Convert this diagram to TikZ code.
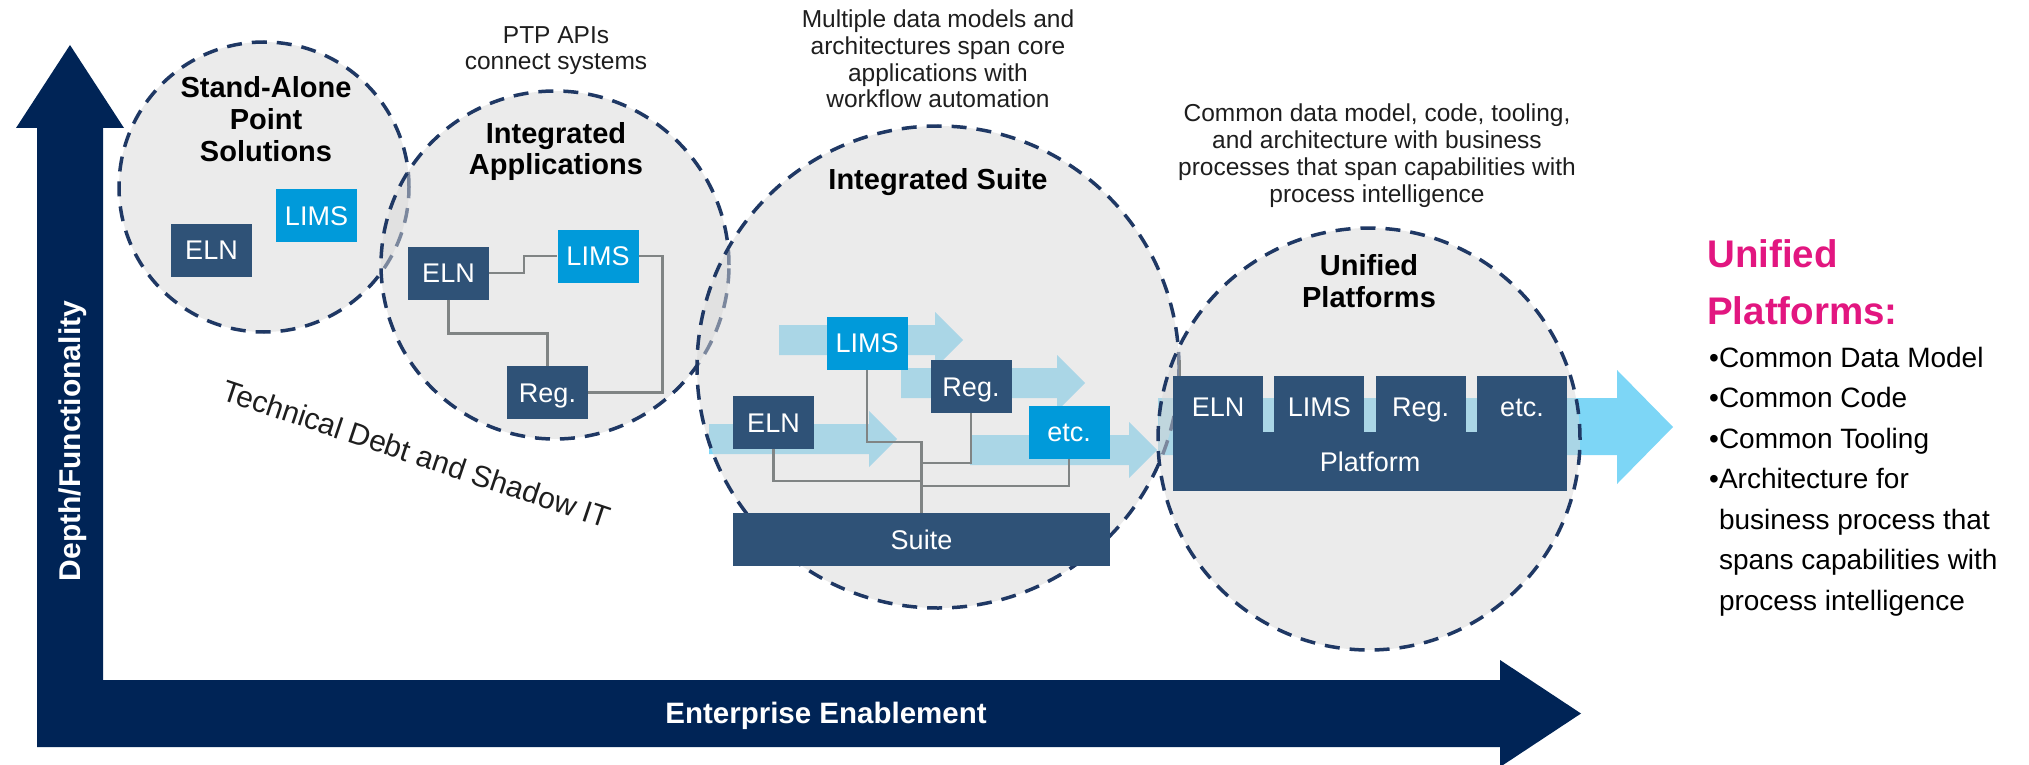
\documentclass[tikz,border=0pt]{standalone}
\usepackage{fontspec}
\setmainfont{Liberation Sans}
\usepackage{tikz}

\definecolor{axisnavy}{RGB}{0,36,86}
\definecolor{zoneline}{RGB}{31,56,100}
\definecolor{zonefill}{RGB}{215,215,215}
\definecolor{boxdark}{RGB}{47,82,119}
\definecolor{boxbright}{RGB}{0,154,218}
\definecolor{flowblue}{RGB}{125,214,246}
\definecolor{wiregray}{RGB}{128,132,132}
\definecolor{accent}{RGB}{226,22,128}
\definecolor{notegray}{RGB}{30,30,30}

\tikzset{
  zone/.style={circle, draw=zoneline, line width=3.5pt, dash pattern=on 15pt off 10pt,
    fill=zonefill, fill opacity=0.5, inner sep=0pt},
  darkbox/.style={fill=boxdark, text=white, inner sep=0pt, minimum width=81pt,
    minimum height=53pt, font=\fontsize{27}{32}\selectfont, text height=19.4pt, text depth=0pt},
  brightbox/.style={darkbox, fill=boxbright},
  wire/.style={draw=wiregray, line width=2.5pt},
  title/.style={font=\bfseries\fontsize{29}{32}\selectfont, align=center, anchor=base, inner sep=0pt},
  note/.style={font=\fontsize{24.5}{26.8}\selectfont, text=notegray, align=center, anchor=base, inner sep=0pt}
}

\begin{document}
\begin{tikzpicture}[x=1pt, y={(0pt,-1pt)}]
      \useasboundingbox (0,0) rectangle (2029,765);
      \pgfmathsetmacro{\sh}{15}
      \pgfmathsetmacro{\hh}{28}

      \fill[axisnavy] (37,747) -- (37,128) -- (16,128) -- (70,45) -- (124,128) -- (103,128)
        -- (103,680) -- (1500,680) -- (1500,660) -- (1581,713.5) -- (1500,767) -- (1500,747) -- cycle;

      \foreach \xa/\xb/\yc in {779/963/340, 901/1085/383, 709/897/439, 970/1157/450}
      {
        \fill[flowblue] (\xa,\yc-\sh) -- (\xb-28,\yc-\sh) -- (\xb-28,\yc-\hh) -- (\xb,\yc)
          -- (\xb-28,\yc+\hh) -- (\xb-28,\yc+\sh) -- (\xa,\yc+\sh) -- cycle;
      }
      \fill[flowblue] (1158,398) -- (1617,398) -- (1617,370) -- (1673,427) -- (1617,484)
        -- (1617,455) -- (1158,455) -- cycle;

      \node[zone, minimum size=290pt] (standalone) at (264,187) {};
      \node[zone, minimum size=348pt] (integrated) at (555,265) {};
      \node[zone, minimum size=482pt] (suitezone) at (938,367) {};
      \node[zone, minimum size=422pt] (unified) at (1369,439) {};

      % multi-line texts sit on the baseline of their last line
      \node[title] (t1) at (266,161) {Stand-Alone\\Point\\Solutions};
      \node[title] (t2) at (556,175) {Integrated\\Applications};
      \node[title] (t3) at (938,189) {Integrated Suite};
      \node[title] (t4) at (1369,307) {Unified\\Platforms};

      \node[note] (n2) at (556,70) {PTP APIs\\connect systems};
      \node[note] (n3) at (938,108) {Multiple data models and\\architectures span core\\applications with\\workflow automation};
      \node[note] (n4) at (1377,202) {Common data model, code, tooling,\\and architecture with business\\processes that span capabilities with\\process intelligence};

      \node[darkbox] (eln1) at (211.5,250) {ELN};
      \node[brightbox] (lims1) at (316.5,215.5) {LIMS};

      \node[darkbox] (eln2) at (448.5,273) {ELN};
      \node[brightbox] (lims2) at (598,256) {LIMS};
      \node[darkbox] (reg2) at (547.5,392.5) {Reg.};
      \draw[wire] (eln2.east) -- ++(35,0) |- (lims2.west);
      \draw[wire] (lims2.east) -- ++(24,0) |- (reg2.east);
      \draw[wire] (eln2.south) -- ++(0,34) -| (reg2.north);

      \node[brightbox] (lims3) at (867,343) {LIMS};
      \node[darkbox] (reg3) at (971,386.5) {Reg.};
      \node[darkbox] (eln3) at (773.5,422.5) {ELN};
      \node[brightbox] (etc3) at (1069,432) {etc.};
      \node[darkbox, minimum width=377pt] (suite) at (921.5,539.5) {Suite};
      \draw[wire] (lims3.south) |- (suite.north |- 0,442) -- (suite.north);
      \draw[wire] (reg3.south) |- (suite.north |- 0,463);
      \draw[wire] (eln3.south) |- (suite.north |- 0,481);
      \draw[wire] (etc3.south) |- (suite.north |- 0,486);

      \foreach \lbl [count=\i from 0] in {ELN,LIMS,Reg.,etc.}
      {
        \node[darkbox, minimum width=90pt, minimum height=62pt] (tab\i) at ({1218+101.33*\i},407) {\lbl};
      }
      \node[darkbox, minimum width=394pt, minimum height=59pt] (platform) at (1370,461.5) {Platform};
      \coordinate (stub) at (1180,360);
      \draw[wire, line width=1.5pt] (stub) -- (stub |- tab0.north);

      \node[font=\bfseries\fontsize{30}{36}\selectfont, text=white, rotate=90, anchor=base, inner sep=0pt] (depth) at (80,441) {Depth/Functionality};
      \node[font=\bfseries\fontsize{29.5}{36}\selectfont, text=white, anchor=base, inner sep=0pt] (enterprise) at (826,723) {Enterprise Enablement};
      \node[font=\fontsize{30}{36}\selectfont, text=notegray, rotate=-18.5, anchor=base, inner sep=0pt] (debt) at (413,464) {Technical Debt and Shadow IT};

      \node[font=\bfseries\fontsize{38.5}{57}\selectfont, text=accent, align=left, anchor=base west, inner sep=0pt] (headline) at (1707,324) {Unified\\Platforms:};
      \node[font=\fontsize{28}{40.5}\selectfont, align=left, anchor=base west, inner sep=0pt] (features) at (1709,610)
        {\textbullet Common Data Model\\\textbullet Common Code\\\textbullet Common Tooling\\\textbullet Architecture for\\\phantom{\textbullet}business process that\\\phantom{\textbullet}spans capabilities with\\\phantom{\textbullet}process intelligence};
\end{tikzpicture}
\end{document}
